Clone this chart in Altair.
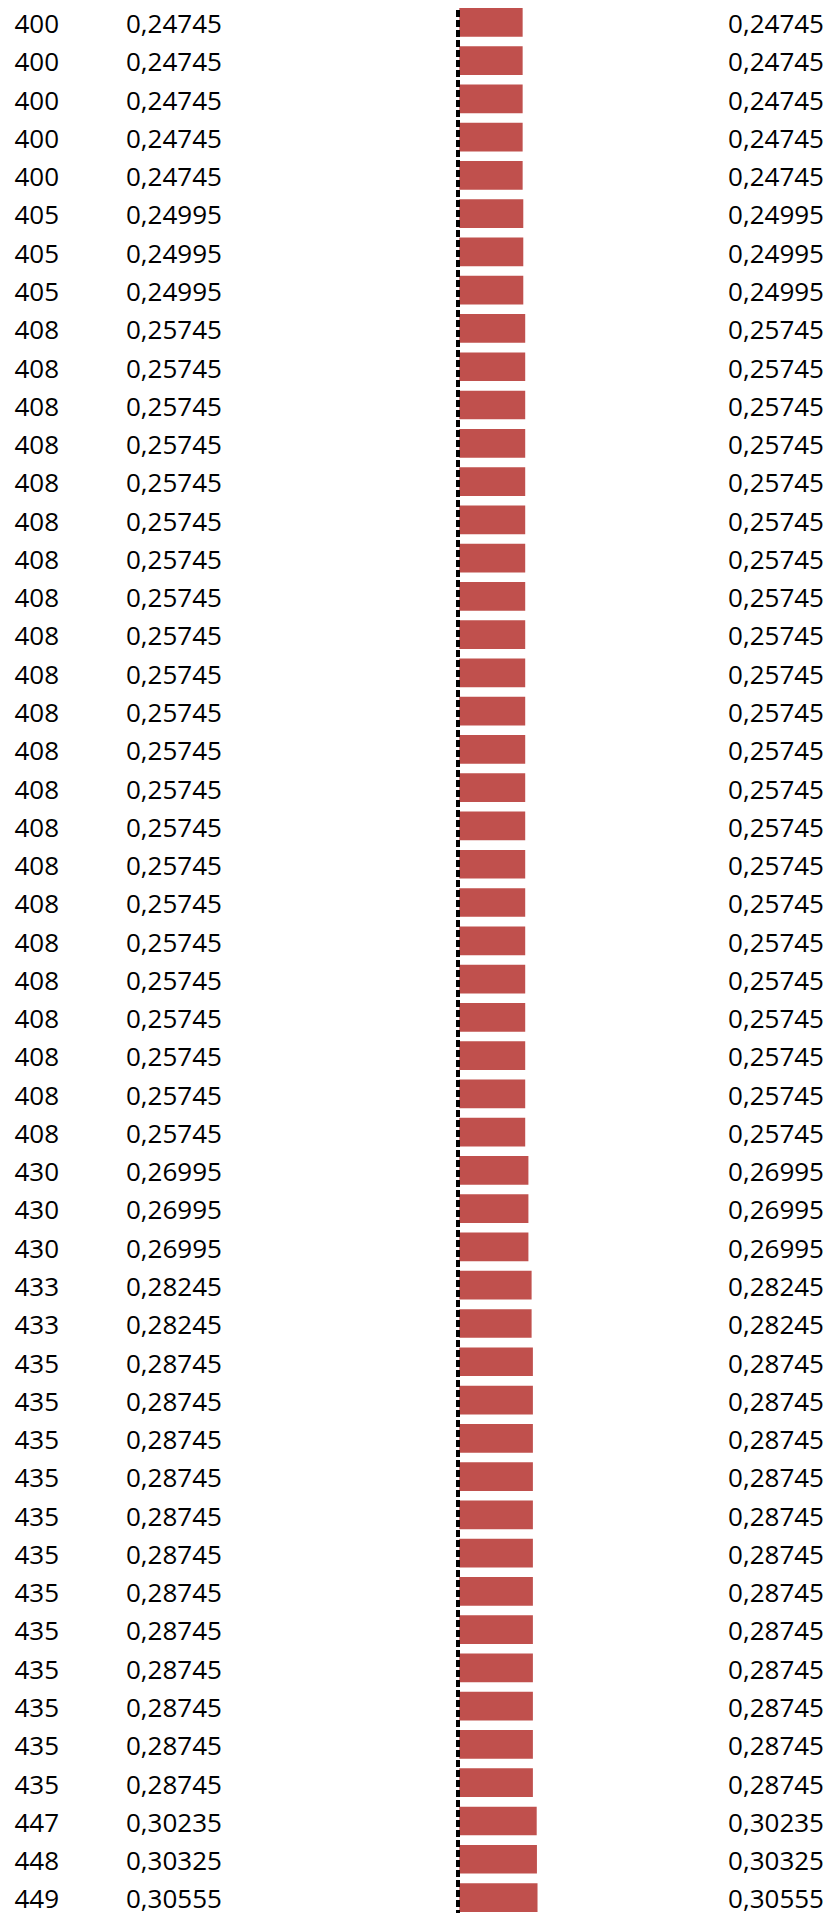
import altair as alt
import pandas as pd

ids = [400, 400, 400, 400, 400,
       405, 405, 405,
       408, 408, 408, 408, 408, 408, 408, 408, 408, 408, 408,
       408, 408, 408, 408, 408, 408, 408, 408, 408, 408, 408,
       430, 430, 430,
       433, 433,
       435, 435, 435, 435, 435, 435, 435, 435, 435, 435, 435, 435,
       447, 448, 449]

values = [0.24745, 0.24745, 0.24745, 0.24745, 0.24745,
          0.24995, 0.24995, 0.24995,
          0.25745, 0.25745, 0.25745, 0.25745, 0.25745, 0.25745, 0.25745,
          0.25745, 0.25745, 0.25745, 0.25745, 0.25745, 0.25745, 0.25745,
          0.25745, 0.25745, 0.25745, 0.25745, 0.25745, 0.25745, 0.25745,
          0.25745,
          0.26995, 0.26995, 0.26995,
          0.28245, 0.28245,
          0.28745, 0.28745, 0.28745, 0.28745, 0.28745, 0.28745,
          0.28745, 0.28745, 0.28745, 0.28745, 0.28745, 0.28745,
          0.30235, 0.30325, 0.30555]

df = pd.DataFrame({
    "row": list(range(len(ids))),
    "id": [str(i) for i in ids],
    "value": values,
    "label": [f"{v:.5f}".replace(".", ",") for v in values],
})

W, H = 816, 1905
step = 38.27
y0 = -4.83
yscale = alt.Scale(range=[y0, y0 + step * len(ids)], paddingInner=0.25, paddingOuter=0.125)
y_enc = alt.Y("row:O", scale=yscale, axis=None)

FONT = "Open Sans"
FS = 26
DY = 10.8

base = alt.Chart(df)

bars = base.mark_bar(color="#C0504D", cornerRadius=0).encode(
    y=y_enc,
    x=alt.X("value:Q", scale=alt.Scale(domain=[0, 1], range=[451.3, 707.3]), axis=None),
)

rule = base.mark_rule(color="#000000", strokeWidth=3, strokeDash=[7, 3]).encode(
    x=alt.value(450.3), y=alt.value(-8), y2=alt.value(H + 8)
)

col1 = base.mark_text(font=FONT, fontSize=FS, align="left", baseline="alphabetic", dy=DY, color="#000000").encode(
    y=y_enc, x=alt.value(6.5), text="id:N"
)
col2 = base.mark_text(font=FONT, fontSize=FS, align="left", baseline="alphabetic", dy=DY, color="#000000").encode(
    y=y_enc, x=alt.value(118), text="label:N"
)
col3 = base.mark_text(font=FONT, fontSize=FS, align="right", baseline="alphabetic", dy=DY, color="#000000").encode(
    y=y_enc, x=alt.value(816), text="label:N"
)

chart = alt.layer(bars, rule, col1, col2, col3).properties(
    width=W, height=H, padding=0, autosize=alt.AutoSizeParams(type="none")
).configure_view(stroke=None)

chart.save("out.html", embed_options={"renderer": "svg", "actions": False})
